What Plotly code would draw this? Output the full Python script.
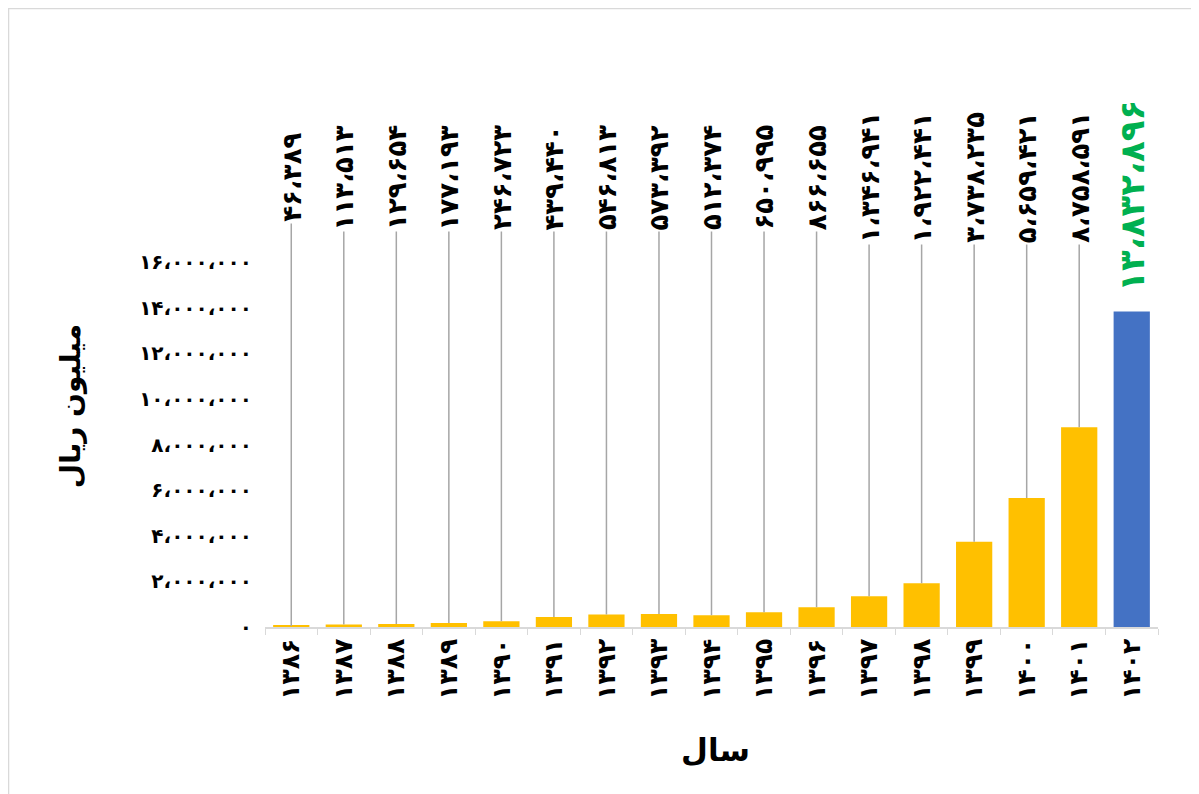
import plotly.graph_objects as go

years = [1386, 1387, 1388, 1389, 1390, 1391, 1392, 1393, 1394, 1395, 1396,
         1397, 1398, 1399, 1400, 1401, 1402]
values = [46389, 113513, 129654, 177193, 246723, 439440, 546813, 573392, 512374,
          650995, 866655, 1346941, 1922441, 3738235, 5659421, 8758591, 13832896]
y_ticks = [0, 2000000, 4000000, 6000000, 8000000, 10000000, 12000000, 14000000, 16000000]
x_title = "سال"
y_title = "میلیون ریال"

FA = str.maketrans("0123456789,", "۰۱۲۳۴۵۶۷۸۹،")


def fa(n, sep=True):
    s = f"{n:,}" if sep else str(n)
    return s.translate(FA)


FONT = "DejaVu Sans"
cats = [fa(y, sep=False) for y in years]
colors = ["#FFC000"] * (len(values) - 1) + ["#4472C4"]

fig = go.Figure(go.Bar(x=cats, y=values, marker_color=colors, marker_line_width=0))

LABEL_Y = 19700000
for i, (c, v) in enumerate(zip(cats, values)):
    last = i == len(values) - 1
    if not last:
        fig.add_annotation(
            x=c, y=v, xref="x", yref="y",
            ax=c, ay=LABEL_Y, axref="x", ayref="y",
            text=fa(v), textangle=-90, showarrow=True,
            arrowhead=0, arrowwidth=1.5, arrowcolor="#A6A6A6", standoff=0,
            font=dict(family=FONT, size=26, color="black", weight="bold"),
        )
    else:
        fig.add_annotation(
            x=c, y=1.181, xref="x", yref="paper", yanchor="middle",
            text=fa(v), textangle=-90, showarrow=False,
            font=dict(family=FONT, size=34, color="#00B050", weight="bold"),
        )

# axis titles
fig.add_annotation(x=-0.2184, y=0.605, xref="paper", yref="paper",
                   xanchor="center", yanchor="middle", showarrow=False,
                   text=y_title, textangle=-90,
                   font=dict(family=FONT, size=28, color="black", weight="bold"))
fig.add_annotation(x=0.504, y=-0.337, xref="paper", yref="paper",
                   xanchor="center", yanchor="middle", showarrow=False,
                   text=x_title,
                   font=dict(family=FONT, size=31, color="black", weight="bold"))

fig.add_shape(type="rect", xref="paper", yref="paper",
              x0=-0.2872, x1=1.0414, y0=-0.5, y1=1.6945,
              line=dict(color="#D9D9D9", width=1.5))

fig.update_layout(
    width=1191, height=786,
    margin=dict(l=257, r=41, t=254, b=167),
    plot_bgcolor="white", paper_bgcolor="white",
    bargap=0.31, showlegend=False,
    font=dict(family=FONT, color="black"),
)
fig.update_xaxes(
    type="category", tickangle=-90, showgrid=False,
    showline=True, linecolor="#D9D9D9", linewidth=1.5,
    ticks="outside", tickson="boundaries", tickcolor="#D9D9D9", ticklen=6,
    tickfont=dict(family=FONT, size=25, color="black", weight="bold"),
)
fig.update_yaxes(
    range=[0, 16000000], showgrid=False, zeroline=False, showline=False,
    tickvals=y_ticks, ticktext=[fa(t) for t in y_ticks],
    tickfont=dict(family=FONT, size=20, color="black", weight="bold"),
    ticklabelstandoff=12,
)

fig.write_html("out.html")
